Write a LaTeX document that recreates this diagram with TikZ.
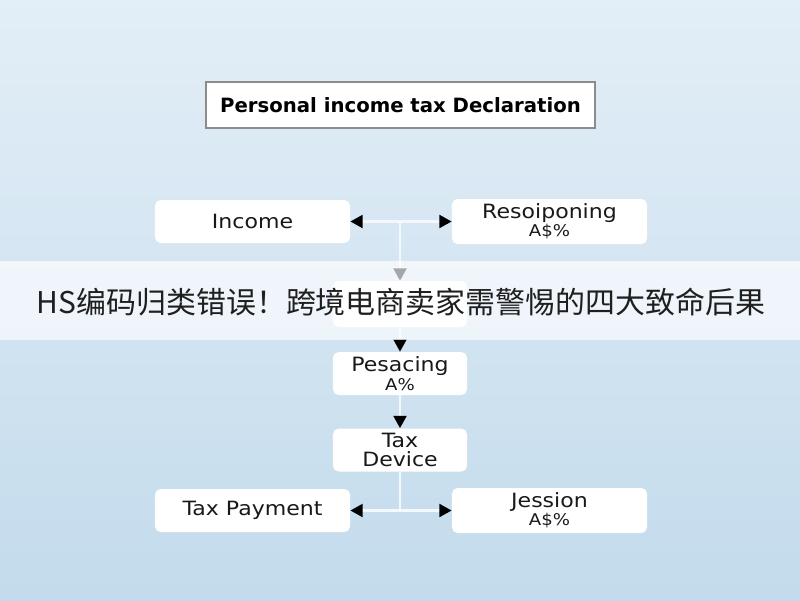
\documentclass[tikz,border=0pt]{standalone}
\usepackage{fontspec}
\setmainfont{DejaVu Sans}
\newfontfamily\boxfont[FakeStretch=1.12]{DejaVu Sans}
\newfontfamily\cjk{Noto Sans CJK SC}
\usetikzlibrary{positioning}
\usetikzlibrary{arrows.meta}
\tikzset{>={Triangle[width=3.2mm,length=3.1mm,color=black]}}
\definecolor{bgtop}{HTML}{E3EEF7}
\definecolor{bgbot}{HTML}{C3DBEC}
\definecolor{linkc}{HTML}{F4F8FB}
\tikzset{
  stage/.style={fill=white, rounded corners=4pt, minimum height=1.075cm, align=center,
                font=\boxfont\fontsize{14}{13}\selectfont, text=black!90},
  wide/.style={stage, minimum width=4.875cm},
  narrow/.style={stage, minimum width=3.35cm},
  link/.style={draw=linkc, line width=2pt},
}
\newcommand{\sub}[1]{{\fontsize{11.5}{13}\selectfont #1}}

\begin{document}
\begin{tikzpicture}[x=0.025cm, y=-0.025cm]
    \useasboundingbox (0,0) rectangle (800,600);
    \shade [top color=bgtop, bottom color=bgbot] (0,0) rectangle (800,600);

    \node (title) at (400.5,105) [draw=black!45, line width=1pt, fill=white, minimum width=9.725cm, minimum height=1.15cm, font=\bfseries\fontsize{14}{15}\selectfont] {Personal income tax Declaration};

    \node (income) at (252.5,221.5) [wide] {Income};
    \node (resp) at (549.5,221.5) [wide] {Resoiponing\\\sub{A\$\%}};
    \node (hidden) at (400,304) [narrow, minimum height=1.15cm] {};
    \node (pesa) at (400,373.5) [narrow] {Pesacing\\\sub{A\%}};
    \node (device) at (400,450) [narrow] {Tax\\Device};
    \node (taxpay) at (252.5,510.5) [wide] {Tax Payment};
    \node (jession) at (549.5,510.5) [wide] {Jession\\\sub{A\$\%}};

    \path [link, <->] (income) -- (resp);
    \path [link, ->] (hidden |- income) -- (hidden);
    \path [link, ->] (hidden) -- (pesa);
    \path [link, ->] (pesa) -- (device);
    \path [link] (device) -- (device |- taxpay);
    \path [link, <->] (taxpay) -- (jession);

    % banner laid over the chart
    \fill [white, opacity=0.65] (0,261) rectangle (800,340);
    \node (banner) at (401,302) [font=\cjk\fontsize{21.3}{24}\selectfont, text=black!88] {HS编码归类错误！跨境电商卖家需警惕的四大致命后果};
\end{tikzpicture}
\end{document}
